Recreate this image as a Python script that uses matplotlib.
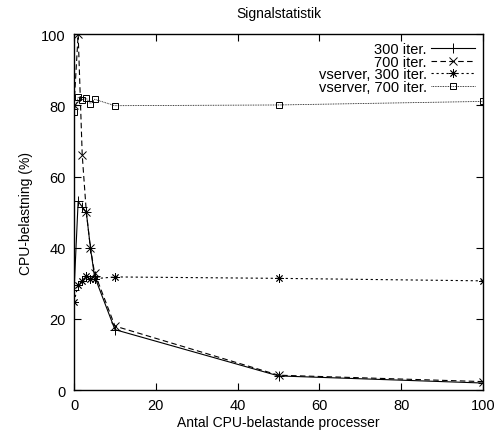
import matplotlib
matplotlib.use("Agg")
import matplotlib.pyplot as plt

plt.rcParams['font.family'] = ['Liberation Sans', 'DejaVu Sans']

# antal CPU-belastande processer
x = [0, 1, 2, 3, 4, 5, 10, 50, 100]

iter300 = [28, 53, 51.5, 50, 40, 32, 17, 4, 2]
iter700 = [80, 100, 66, 50, 40, 33, 18, 4.2, 2.4]
vs300 = [24.8, 29.6, 30.7, 32.1, 31.3, 31.3, 31.8, 31.4, 30.7]
vs700 = [78, 82.2, 81.6, 82, 80.5, 81.7, 79.9, 80.1, 81.1]

labels = ['300 iter.', '700 iter.', 'vserver, 300 iter.', 'vserver, 700 iter.']

fig = plt.figure(figsize=(4.97, 4.39), dpi=100)
ax = fig.add_axes([0.149, 0.109, 0.823, 0.811])

ax.plot(x, iter300, color='black', lw=0.8, marker='+', ms=7, mew=0.7,
        label=labels[0])
ax.plot(x, iter700, color='black', lw=0.8, ls=(0, (5, 3)), marker='x', ms=5.5,
        mew=0.7, label=labels[1])
ax.plot(x, vs300, color='black', lw=0.8, ls=(0, (2, 2.5)), marker=(8, 2, 0),
        ms=6, mew=0.6, label=labels[2])
ax.plot(x, vs700, color='black', lw=0.6, ls=(0, (1, 1)), marker='s', ms=5,
        mew=0.7, mfc='none', label=labels[3])

ax.set_xlim(0, 100)
ax.set_ylim(0, 100)
ax.set_xticks([0, 20, 40, 60, 80, 100])
ax.set_yticks([0, 20, 40, 60, 80, 100])
ax.tick_params(direction='in', length=5, width=0.8, top=True, right=True,
               labelsize=10.5, pad=6)
for s in ax.spines.values():
    s.set_linewidth(1.0)

ax.set_title('Signalstatistik', fontsize=10, pad=12)
ax.set_xlabel('Antal CPU-belastande processer', fontsize=10, labelpad=2)
ax.set_ylabel('CPU-belastning (%)', fontsize=10, labelpad=6)

leg = ax.legend(loc='upper right', frameon=False, markerfirst=False,
                alignment='right', fontsize=10.5, handlelength=3.0,
                handletextpad=0.3, labelspacing=-0.1, borderaxespad=0.15)

fig.savefig('out.png', dpi=100)
